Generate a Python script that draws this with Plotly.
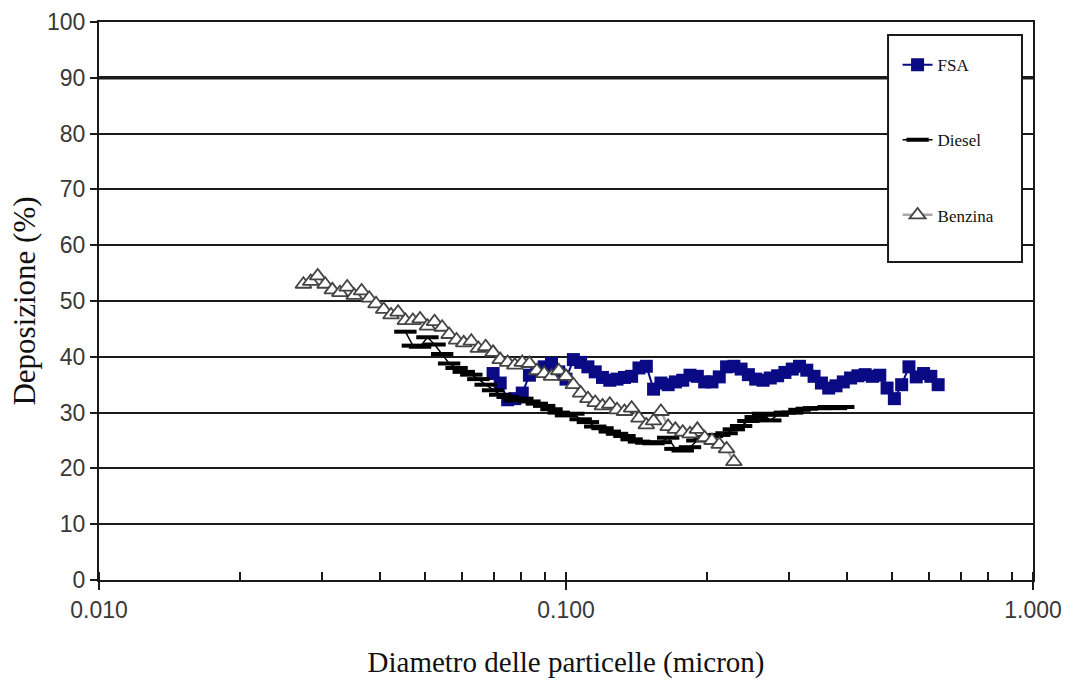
import plotly.graph_objects as go

# Particle diameters (micron), SMPS channels at 64 per decade
diam_benzina = [0.0274, 0.0284, 0.0294, 0.0305, 0.0316, 0.0328, 0.0340, 0.0352, 0.0365, 0.0379,
                0.0392, 0.0407, 0.0422, 0.0437, 0.0453, 0.0470, 0.0487, 0.0505, 0.0523, 0.0543,
                0.0562, 0.0583, 0.0604, 0.0627, 0.0649, 0.0673, 0.0698, 0.0723, 0.0750, 0.0777,
                0.0806, 0.0835, 0.0866, 0.0898, 0.0931, 0.0965, 0.1000, 0.1037, 0.1075, 0.1114,
                0.1155, 0.1197, 0.1241, 0.1286, 0.1334, 0.1382, 0.1433, 0.1486, 0.1540, 0.1597,
                0.1655, 0.1715, 0.1778, 0.1843, 0.1911, 0.1981, 0.2054, 0.2129, 0.2207, 0.2288]
dep_benzina = [53.0, 53.5, 54.5, 53.0, 52.0, 51.5, 52.5, 51.0, 51.8, 50.5,
               49.5, 48.5, 47.5, 48.0, 46.5, 46.5, 46.8, 45.5, 46.3, 45.3,
               44.0, 43.0, 42.5, 42.8, 41.5, 41.8, 40.8, 39.5, 39.0, 38.5,
               39.0, 38.8, 37.5, 37.0, 36.5, 37.5, 36.5, 35.0, 33.5, 32.5,
               31.8, 31.2, 31.5, 30.5, 30.2, 30.8, 29.0, 27.8, 28.5, 30.2,
               27.5, 27.0, 26.5, 26.2, 27.0, 25.5, 25.0, 24.3, 23.5, 21.2]

diam_diesel = [0.0453, 0.0470, 0.0487, 0.0505, 0.0523, 0.0543, 0.0562, 0.0583, 0.0604, 0.0627,
               0.0649, 0.0673, 0.0698, 0.0723, 0.0750, 0.0777, 0.0806, 0.0835, 0.0866, 0.0898,
               0.0931, 0.0965, 0.1000, 0.1037, 0.1075, 0.1114, 0.1155, 0.1197, 0.1241, 0.1286,
               0.1334, 0.1382, 0.1433, 0.1486, 0.1540, 0.1597, 0.1655, 0.1715, 0.1778, 0.1843,
               0.1911, 0.1981, 0.2054, 0.2129, 0.2207, 0.2288, 0.2371, 0.2458, 0.2548, 0.2642,
               0.2738, 0.2839, 0.2943, 0.3051, 0.3162, 0.3278, 0.3398, 0.3523, 0.3652, 0.3786,
               0.3924]
dep_diesel = [44.5, 42.0, 41.8, 43.5, 42.2, 40.5, 38.8, 38.0, 37.3, 36.8,
              36.0, 35.0, 34.0, 33.2, 32.8, 32.2, 32.5, 32.0, 31.6, 31.2,
              30.6, 30.0, 29.5, 29.8, 28.8, 28.3, 27.5, 27.2, 26.6, 26.2,
              25.8, 25.2, 24.8, 24.6, 24.5, 24.7, 25.5, 23.5, 23.2, 23.8,
              25.0, 25.6, 25.8, 26.0, 26.3, 27.0, 27.6, 28.5, 29.2, 29.8,
              28.6, 29.6, 30.0, 30.0, 30.5, 30.7, 30.8, 30.8, 31.0, 30.8,
              31.0]

diam_fsa = [0.0698, 0.0723, 0.0750, 0.0777, 0.0806, 0.0835, 0.0866, 0.0898, 0.0931, 0.0965,
            0.1000, 0.1037, 0.1075, 0.1114, 0.1155, 0.1197, 0.1241, 0.1286, 0.1334, 0.1382,
            0.1433, 0.1486, 0.1540, 0.1597, 0.1655, 0.1715, 0.1778, 0.1843, 0.1911, 0.1981,
            0.2054, 0.2129, 0.2207, 0.2288, 0.2371, 0.2458, 0.2548, 0.2642, 0.2738, 0.2839,
            0.2943, 0.3051, 0.3162, 0.3278, 0.3398, 0.3523, 0.3652, 0.3786, 0.3924, 0.4068,
            0.4217, 0.4371, 0.4532, 0.4698, 0.4870, 0.5048, 0.5233, 0.5425, 0.5623, 0.5830,
            0.6043, 0.6265]
dep_fsa = [37.0, 35.3, 32.3, 32.5, 33.5, 36.7, 37.5, 38.2, 38.8, 37.3,
           36.0, 39.5, 39.0, 38.2, 37.3, 36.3, 35.8, 36.0, 36.3, 36.5,
           38.0, 38.3, 34.2, 35.3, 35.0, 35.5, 35.8, 36.7, 36.5, 35.5,
           35.5, 36.4, 38.2, 38.3, 37.8, 36.8, 36.0, 35.8, 36.2, 36.6,
           37.2, 37.8, 38.3, 37.6, 36.5, 35.3, 34.4, 34.8, 35.5, 36.2,
           36.6, 36.8, 36.5, 36.7, 34.4, 32.5, 35.0, 38.2, 36.4, 37.0,
           36.5, 35.0]

x_tickvals = [0.01, 0.1, 1.0]
x_ticktext = ["0.010", "0.100", "1.000"]
y_tickvals = [0, 10, 20, 30, 40, 50, 60, 70, 80, 90, 100]

serif = "Liberation Serif, Times New Roman, serif"
sans = "Liberation Sans, Arial, sans-serif"

fig = go.Figure()

fig.add_trace(go.Scatter(
    x=diam_fsa, y=dep_fsa, name="FSA", mode="lines+markers",
    line=dict(color="#0a0a84", width=2),
    marker=dict(symbol="square", size=13, color="#0a0a84", line=dict(width=0)),
    legendgroup="a",
))
fig.add_trace(go.Scatter(
    x=diam_diesel, y=dep_diesel, name="Diesel", mode="lines+markers",
    line=dict(color="#000000", width=1.5),
    marker=dict(symbol="line-ew", size=16, color="#000000", line=dict(width=4, color="#000000")),
    legendgroup="b",
))
fig.add_trace(go.Scatter(
    x=diam_benzina, y=dep_benzina, name="Benzina", mode="lines+markers",
    line=dict(color="#a8a8a8", width=2.5),
    marker=dict(symbol="triangle-up", size=14, color="#ffffff", line=dict(width=1.8, color="#444444")),
    legendgroup="c",
))

shapes = [
    # heavier 90% gridline
    dict(type="line", xref="paper", x0=0, x1=1, yref="y", y0=90, y1=90,
         line=dict(color="#1a1a1a", width=3.5), layer="below"),
    # legend frame
    dict(type="rect", xref="paper", yref="paper", x0=0.8448, x1=0.9882, y0=0.5699, y1=0.9767,
         fillcolor="white", line=dict(color="#1a1a1a", width=2), layer="above"),
]

fig.update_layout(
    width=1073, height=682,
    margin=dict(l=99, r=40, t=22, b=102),
    paper_bgcolor="white", plot_bgcolor="white",
    shapes=shapes,
    showlegend=True,
    legend=dict(
        x=0.855, y=0.955, xanchor="left", yanchor="top",
        bgcolor="rgba(0,0,0,0)", borderwidth=0,
        font=dict(family=serif, size=17, color="#111111"),
        tracegroupgap=50, traceorder="grouped",
        itemwidth=30,
    ),
    xaxis=dict(
        type="log", range=[-2, 0],
        tickvals=x_tickvals, ticktext=x_ticktext,
        ticks="outside", ticklen=8, tickwidth=2, tickcolor="#1a1a1a",
        showline=True, linecolor="#1a1a1a", linewidth=2, mirror=True,
        showgrid=False, zeroline=False,
        minor=dict(ticks="inside", ticklen=8, tickwidth=1.5, tickcolor="#1a1a1a",
                   dtick="D1", showgrid=False),
        tickfont=dict(family=sans, size=23, color="#383838"),
        title=dict(text="Diametro delle particelle (micron)", standoff=30,
                   font=dict(family=serif, size=29, color="#111111")),
        automargin=False,
    ),
    yaxis=dict(
        range=[0, 100], tickvals=y_tickvals,
        ticks="outside", ticklen=7, tickwidth=2, tickcolor="#1a1a1a",
        showline=True, linecolor="#1a1a1a", linewidth=2, mirror=True,
        showgrid=True, gridcolor="#1a1a1a", gridwidth=2, zeroline=False,
        tickfont=dict(family=sans, size=23, color="#383838"),
        title=dict(text="Deposizione (%)", standoff=2,
                   font=dict(family=serif, size=31, color="#111111")),
        automargin=False,
    ),
)

fig.write_html("out.html")
